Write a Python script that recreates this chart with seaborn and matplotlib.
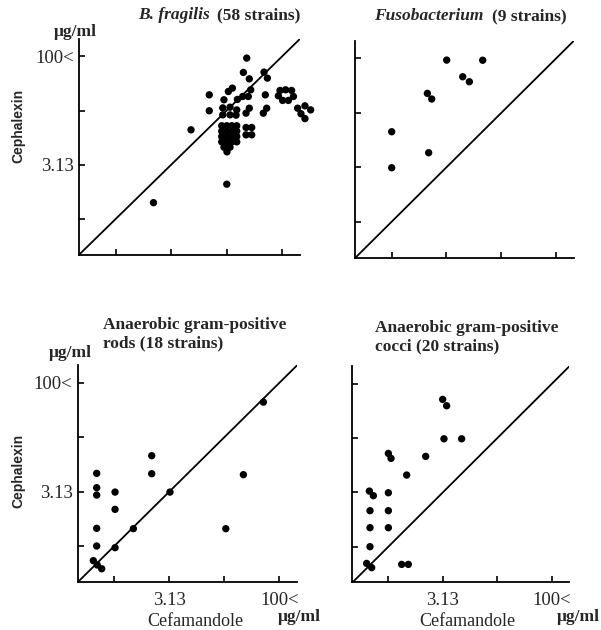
import numpy as np
import pandas as pd
import seaborn as sns
import matplotlib.pyplot as plt
from matplotlib.ticker import NullLocator

sns.set_style("ticks")
plt.rcParams['font.family'] = ['Liberation Serif', 'DejaVu Serif']
plt.rcParams['axes.linewidth'] = 1.3

# MIC values (ug/ml): x = Cefamandole, y = Cephalexin
frag_x = [1.80, 5.82, 10.3, 10.3, 17.8,
          15.2, 17.8, 20.8, 24.3, 15.2, 17.8, 20.8, 24.3,
          15.2, 17.8, 20.8, 24.3, 15.2, 17.8, 20.8, 24.3,
          16.3, 19.7, 17.9,
          15.7, 19.7, 24.3, 15.7, 19.7, 23.8,
          18.7, 21.2, 16.3, 24.8,
          32.5, 38.8, 32.5, 38.8,
          32.5, 36.0, 34.9, 37.6, 29.3,
          33.2, 29.9, 36.0,
          57.0, 63.3, 59.4, 55.8, 62.0,
          94.0, 112, 135, 89.3, 143, 102, 122,
          163, 205, 245, 181, 205]
frag_y = [0.93, 9.57, 17.6, 29.3, 1.68,
          10.9, 10.9, 10.9, 10.9, 9.16, 9.16, 9.16, 9.16,
          7.73, 7.73, 7.73, 7.73, 6.51, 6.51, 6.51, 6.51,
          5.49, 5.49, 4.73,
          19.3, 19.75, 18.1, 15.45, 15.45, 15.3,
          32.6, 36.3, 25.0, 25.3,
          10.3, 10.3, 8.15, 8.15,
          16.3, 19.1, 27.8, 34.4, 27.8,
          94.9, 60.0, 48.9,
          60.6, 50.0, 29.3, 16.3, 19.1,
          33.7, 34.4, 33.7, 28.4, 27.8, 24.5, 24.5,
          19.1, 20.6, 18.1, 16.0, 13.7]

fuso_x = [0.553, 0.553, 1.71, 1.96, 1.78, 3.15, 5.23, 6.45, 9.84]
fuso_y = [9.70, 3.08, 32.9, 27.5, 4.97, 95.0, 55.9, 47.7, 94.6]

rods_x = [0.317, 0.317, 0.317, 0.317, 0.317, 0.285, 0.323, 0.371, 0.565,
          0.565, 0.565, 1.006, 1.793, 1.793, 3.19, 18.5, 32.2, 60.5]
rods_y = [5.59, 3.54, 2.80, 0.970, 0.553, 0.347, 0.302, 0.268, 3.08,
          1.776, 0.524, 0.960, 9.81, 5.53, 3.08, 0.960, 5.36, 54.1]

cocci_x = [0.302, 0.343, 0.308, 0.308, 0.308, 0.277, 0.325, 0.553, 0.602, 0.553,
           0.553, 0.553, 0.845, 1.045, 0.991, 1.815, 3.12, 3.54, 3.25, 5.71]
cocci_y = [3.27, 2.82, 1.747, 1.015, 0.553, 0.324, 0.283, 10.9, 9.30, 3.10,
           1.747, 1.015, 0.314, 0.314, 5.46, 9.91, 61.3, 50.0, 17.4, 17.4]

tick_vals = [0.553, 3.13, 17.7, 100]
tick_labels = ["", "3.13", "", "100<"]
lim = (0.176, 177)

W, H = 601, 630
fig = plt.figure(figsize=(W / 100, H / 100), dpi=100)


def fx(px):
    return px / W


def fy(py):
    return 1 - py / H


panels = [
    # rect, x, y, show x labels, show y labels
    ([0.1316, 0.5957, 0.368, 0.343], frag_x, frag_y, False, True),
    ([0.5915, 0.5911, 0.3637, 0.3445], fuso_x, fuso_y, False, False),
    ([0.1298, 0.0763, 0.3652, 0.3445], rods_x, rods_y, True, True),
    ([0.5864, 0.0754, 0.3611, 0.3433], cocci_x, cocci_y, True, False),
]

for rect, xs, ys, xlab, ylab in panels:
    ax = fig.add_axes(rect)
    ax.set_xscale('log', base=2)
    ax.set_yscale('log', base=2)
    ax.set_xlim(lim)
    ax.set_ylim(lim)
    ax.axline((1, 1), (10, 10), color='black', lw=1.3)
    df = pd.DataFrame({'x': xs, 'y': ys})
    sns.scatterplot(data=df, x='x', y='y', ax=ax, color='black', s=28,
                    edgecolor='none', clip_on=False, zorder=3)
    ax.set_xticks(tick_vals)
    ax.set_yticks(tick_vals)
    ax.xaxis.set_minor_locator(NullLocator())
    ax.yaxis.set_minor_locator(NullLocator())
    ax.set_xticklabels(tick_labels if xlab else [""] * 4)
    ax.set_yticklabels(tick_labels if ylab else [""] * 4)
    ax.tick_params(direction='in', length=4, width=1.2, labelsize=13.5, color='black')
    ax.tick_params(axis='x', pad=7)
    ax.tick_params(axis='y', pad=4)
    ax.set_xlabel("")
    ax.set_ylabel("")
    ax.set_facecolor('white')
    sns.despine(ax=ax)
    for sp in ax.spines.values():
        sp.set_color('black')

# titles
title_kw = dict(fontweight='bold', fontsize=12.5, va='center')
fig.text(fx(210), fy(15), "B. fragilis", style='italic', ha='right', **title_kw)
fig.text(fx(217), fy(15), "(58 strains)", ha='left', **title_kw)
fig.text(fx(483), fy(16), "Fusobacterium", style='italic', ha='right', **title_kw)
fig.text(fx(492), fy(16), "(9 strains)", ha='left', **title_kw)
fig.text(fx(103), fy(334), "Anaerobic gram-positive\nrods (18 strains)",
         ha='left', linespacing=1.15, **title_kw)
fig.text(fx(375), fy(337), "Anaerobic gram-positive\ncocci (20 strains)",
         ha='left', linespacing=1.15, **title_kw)

# unit labels
unit_kw = dict(fontweight='bold', fontsize=12.5, va='center')
fig.text(fx(75), fy(32), "μg/ml", ha='center', **unit_kw)
fig.text(fx(70), fy(353), "μg/ml", ha='center', **unit_kw)
fig.text(fx(321), fy(617), "μg/ml", ha='right', **unit_kw)
fig.text(fx(600), fy(617), "μg/ml", ha='right', **unit_kw)

# axis titles
for py in [126, 471]:
    fig.text(fx(18), fy(py), "Cephalexin", family=['Liberation Sans', 'DejaVu Sans'],
             fontweight='bold', fontsize=10, rotation=90, ha='center', va='center')
for px in [195, 467]:
    fig.text(fx(px), fy(622), "Cefamandole", fontsize=13, ha='center', va='center')

fig.savefig("out.png", dpi=100, facecolor='white')
